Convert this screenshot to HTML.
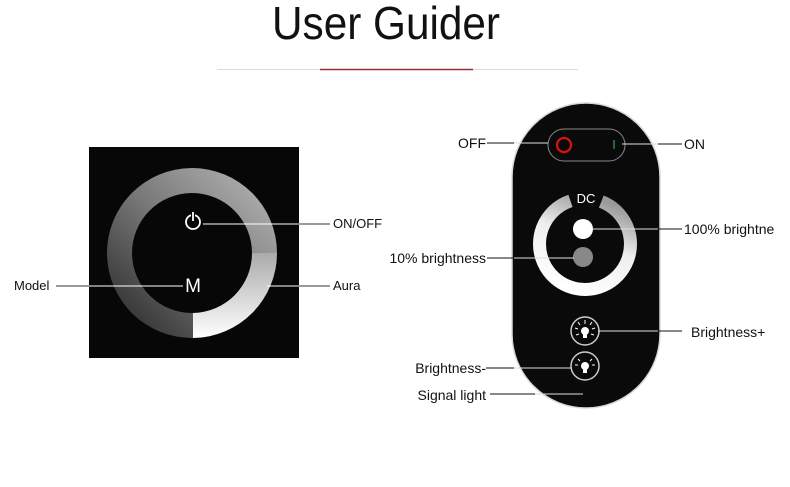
<!DOCTYPE html>
<html><head><meta charset="utf-8"><style>
html,body{margin:0;padding:0;background:#fff;}
svg{display:block;}
text{font-family:"Liberation Sans","Noto Sans CJK SC",sans-serif;}
</style></head><body>
<svg width="790" height="487" viewBox="0 0 790 487" xmlns="http://www.w3.org/2000/svg">
<defs>
<linearGradient id="vl" x1="0" y1="0" x2="0" y2="1">
<stop offset="0" stop-color="#f4d6d6"/><stop offset="0.5" stop-color="#e39a9a"/><stop offset="1" stop-color="#f4d6d6"/></linearGradient>
<linearGradient id="rg1" x1="0" y1="1" x2="1" y2="0">
<stop offset="0" stop-color="#222"/><stop offset="0.5" stop-color="#777"/><stop offset="1" stop-color="#bbb"/></linearGradient>
<linearGradient id="rg2" x1="0" y1="0" x2="0" y2="1">
<stop offset="0" stop-color="#aaa"/><stop offset="1" stop-color="#fff"/></linearGradient>
<linearGradient id="rr" gradientUnits="userSpaceOnUse" x1="538" y1="0" x2="632" y2="0">
<stop offset="0" stop-color="#fff"/><stop offset="0.55" stop-color="#eee"/><stop offset="1" stop-color="#999"/></linearGradient>
</defs>
<text x="386" y="39" font-size="46" text-anchor="middle" textLength="228" lengthAdjust="spacingAndGlyphs" fill="#111">User Guider</text>
<line x1="217" y1="69.5" x2="578" y2="69.5" stroke="#e6d6d6" stroke-width="1"/>
<line x1="320" y1="69.5" x2="473" y2="69.5" stroke="#9a2a35" stroke-width="1.5"/>
<line x1="395.5" y1="88" x2="395.5" y2="385" stroke="url(#vl)" stroke-width="1.5"/>

<!-- left panel -->
<rect x="89" y="147" width="210" height="211" fill="#070707"/>
<path d="M193 338 A85 85 0 1 1 277 253 L252 253 A60 60 0 1 0 193 313 Z" fill="url(#rg1)"/>
<path d="M193 338 A85 85 0 0 0 277 253 L252 253 A60 60 0 0 1 193 313 Z" fill="url(#rg2)"/>
<circle cx="193" cy="222" r="7" fill="none" stroke="#fff" stroke-width="1.8"/>
<rect x="191" y="210" width="4" height="12" fill="#070707"/>
<line x1="193" y1="212" x2="193" y2="221" stroke="#fff" stroke-width="1.8"/>
<text x="193" y="292" font-size="19" text-anchor="middle" fill="#fff">M</text>
<line x1="203" y1="224" x2="330" y2="224" stroke="#333" stroke-width="1"/>
<line x1="203" y1="224" x2="299" y2="224" stroke="#fff" stroke-width="1"/>
<line x1="56" y1="286" x2="183" y2="286" stroke="#333" stroke-width="1"/>
<line x1="89" y1="286" x2="183" y2="286" stroke="#fff" stroke-width="1"/>
<line x1="267" y1="286" x2="330" y2="286" stroke="#333" stroke-width="1"/>
<line x1="267" y1="286" x2="299" y2="286" stroke="#fff" stroke-width="1"/>
<text x="333" y="228" font-size="13" fill="#111">ON/OFF</text>
<text x="333" y="290" font-size="13" fill="#111">Aura</text>
<text x="14" y="290" font-size="13" fill="#111">Model</text>

<!-- remote -->
<rect x="512" y="103" width="148" height="305" rx="74" fill="#0a0a0a" stroke="#d8d8d8" stroke-width="1.5"/>
<rect x="548" y="129" width="77" height="32" rx="16" fill="none" stroke="#888" stroke-width="1"/>
<circle cx="564" cy="145" r="7" fill="none" stroke="#d11" stroke-width="2.2"/>
<line x1="614" y1="140" x2="614" y2="149" stroke="#2a8a3a" stroke-width="1.5"/>
<circle cx="585" cy="244" r="45.5" fill="none" stroke="url(#rr)" stroke-width="13" stroke-dasharray="254 32" transform="rotate(-69 585 244)"/>
<text x="586" y="203" font-size="13" text-anchor="middle" fill="#fff">DC</text>
<circle cx="583" cy="229" r="10" fill="#fff"/>
<circle cx="583" cy="257" r="10" fill="#888"/>
<g fill="#0a0a0a" stroke="#ccc" stroke-width="1.5">
<circle cx="585" cy="331" r="14"/>
<circle cx="585" cy="366" r="14"/>
</g>
<g stroke="#fff" stroke-width="1">
<line x1="585" y1="320" x2="585" y2="324"/><line x1="578" y1="322" x2="580" y2="325"/><line x1="592" y1="322" x2="590" y2="325"/>
<line x1="575" y1="328" x2="578" y2="329"/><line x1="595" y1="328" x2="592" y2="329"/>
<line x1="576" y1="335" x2="579" y2="334"/><line x1="594" y1="335" x2="591" y2="334"/>
<line x1="578" y1="359" x2="580" y2="361"/><line x1="592" y1="359" x2="590" y2="361"/>
<line x1="575" y1="365" x2="578" y2="365"/><line x1="595" y1="365" x2="592" y2="365"/>
</g>
<circle cx="585" cy="331" r="4" fill="#fff"/>
<rect x="583" y="334" width="4" height="4" fill="#fff"/>
<circle cx="585" cy="366" r="4" fill="#fff"/>
<rect x="583" y="369" width="4" height="4" fill="#fff"/>
<g stroke="#111" stroke-width="1">
<line x1="487" y1="143" x2="548" y2="143"/>
<line x1="622" y1="144" x2="682" y2="144"/>
<line x1="592" y1="229" x2="682" y2="229"/>
<line x1="487" y1="258" x2="574" y2="258"/>
<line x1="598" y1="331" x2="682" y2="331"/>
<line x1="486" y1="368" x2="572" y2="368"/>
<line x1="490" y1="394" x2="583" y2="394"/>
</g>
<g stroke="#ddd" stroke-width="1">
<line x1="514" y1="143" x2="548" y2="143"/>
<line x1="622" y1="144" x2="658" y2="144"/>
<line x1="592" y1="229" x2="658" y2="229"/>
<line x1="514" y1="258" x2="574" y2="258"/>
<line x1="598" y1="331" x2="658" y2="331"/>
<line x1="514" y1="368" x2="572" y2="368"/>
<line x1="535" y1="394" x2="583" y2="394"/>
</g>
<g font-size="14" fill="#111">
<text x="486" y="148" text-anchor="end">OFF</text>
<text x="684" y="149">ON</text>
<text x="684" y="234">100% brightne</text>
<text x="486" y="263" text-anchor="end">10% brightness</text>
<text x="691" y="337">Brightness+</text>
<text x="486" y="373" text-anchor="end">Brightness-</text>
<text x="486" y="400" text-anchor="end">Signal light</text>
</g>
</svg>
</body></html>
